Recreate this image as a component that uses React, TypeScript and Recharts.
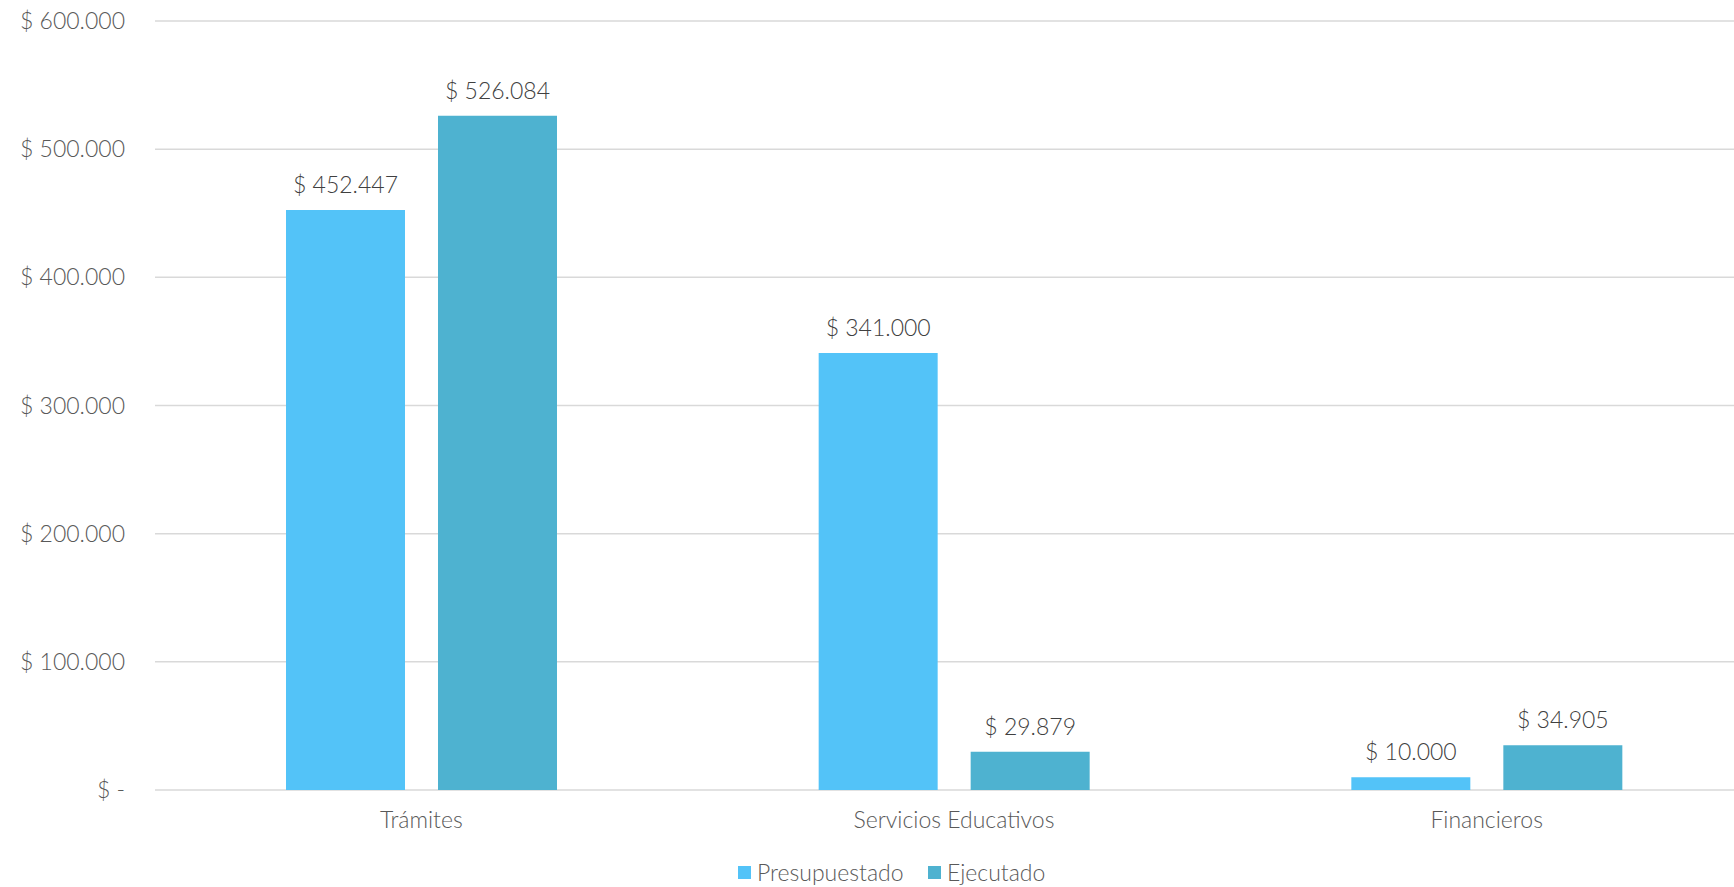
import React from "react"
import { BarChart, Bar, XAxis, YAxis, CartesianGrid, Legend, LabelList } from "recharts"

// Valores
const categorias = ["Trámites", "Servicios Educativos", "Financieros"]
const presupuestado = [452447, 341000, 10000]
const ejecutado = [526084, 29879, 34905]
const ticksY = [0, 100000, 200000, 300000, 400000, 500000, 600000]

const series = [
  { key: "presupuestado", nombre: "Presupuestado", color: "#53C3F8" },
  { key: "ejecutado", nombre: "Ejecutado", color: "#4EB2D0" },
]

const data = categorias.map((categoria, i) => ({
  categoria,
  presupuestado: presupuestado[i],
  ejecutado: ejecutado[i],
}))

const FONT = "Lato, 'Open Sans', sans-serif"

function pesos(v: number) {
  if (!v) return "$ -"
  return "$ " + String(Math.round(v)).replace(/\B(?=(\d{3})+(?!\d))/g, ".")
}

// Leyenda a medida: cuadrado + texto
function Leyenda() {
  const lefts = [738, 928]
  return (
    <div style={{ position: "relative", height: 30, fontFamily: FONT }}>
      {series.map((s, i) => (
        <div
          key={s.key}
          style={{
            position: "absolute",
            left: lefts[i],
            top: 0,
            height: 30,
            display: "flex",
            alignItems: "center",
            whiteSpace: "nowrap",
          }}
        >
          <span style={{ width: 13, height: 13, background: s.color, display: "inline-block" }} />
          <span style={{ marginLeft: 6, fontSize: 23, fontWeight: 300, color: "#595959", lineHeight: "30px" }}>
            {s.nombre}
          </span>
        </div>
      ))}
    </div>
  )
}

export default function App() {
  return (
    <div
      style={{
        position: "absolute",
        left: 0,
        top: 0,
        width: 1734,
        height: 887,
        overflow: "hidden",
        background: "#fff",
      }}
    >
      <BarChart
        width={1753}
        height={887}
        data={data}
        margin={{ top: 21, right: 0, left: 0, bottom: 0 }}
        barSize={119}
        barGap={33}
      >
        <CartesianGrid vertical={false} stroke="#D9D9D9" strokeWidth={1.5} />
        <XAxis
          dataKey="categoria"
          axisLine={false}
          tickLine={false}
          tickSize={0}
          tickMargin={22}
          height={67}
          interval={0}
          tick={{ fill: "#595959", fontSize: 23, fontWeight: 300, fontFamily: FONT }}
        />
        <YAxis
          domain={[0, 600000]}
          ticks={ticksY}
          width={155}
          axisLine={false}
          tickLine={false}
          tickSize={0}
          tickMargin={30}
          tickFormatter={pesos}
          tick={{ fill: "#595959", fontSize: 23, fontWeight: 300, fontFamily: FONT }}
        />
        <Legend verticalAlign="bottom" content={<Leyenda />} />
        {series.map((s) => (
          <Bar key={s.key} dataKey={s.key} name={s.nombre} fill={s.color} isAnimationActive={false}>
            <LabelList
              dataKey={s.key}
              position="top"
              offset={17}
              formatter={(v: number) => pesos(v)}
              fill="#404040"
              fontSize={23}
              fontWeight={300}
              fontFamily={FONT}
            />
          </Bar>
        ))}
      </BarChart>
    </div>
  )
}
